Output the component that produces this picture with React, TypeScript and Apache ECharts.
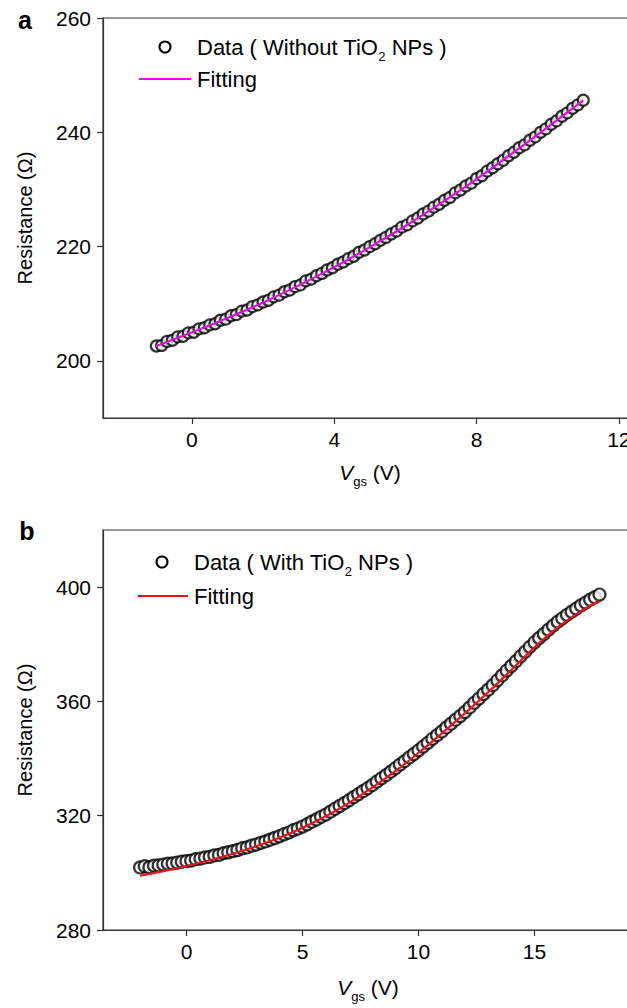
import React, { useEffect, useRef } from 'react';
import * as echarts from 'echarts';

const FONT = '"Liberation Sans", Arial, Helvetica, sans-serif';

// ---------- Panel a (Without TiO2 NPs) ----------
const vgsA = [-1.00,-0.85,-0.70,-0.55,-0.40,-0.25,-0.10,0.05,0.20,0.35,0.50,0.65,0.80,0.95,1.10,1.25,1.40,1.55,1.70,1.85,2.00,2.15,2.30,2.45,2.60,2.75,2.90,3.05,3.20,3.35,3.50,3.65,3.80,3.95,4.10,4.25,4.40,4.55,4.70,4.85,5.00,5.15,5.30,5.45,5.60,5.75,5.90,6.05,6.20,6.35,6.50,6.65,6.80,6.95,7.10,7.25,7.40,7.55,7.70,7.85,8.00,8.15,8.30,8.45,8.60,8.75,8.90,9.05,9.20,9.35,9.50,9.65,9.80,9.95,10.10,10.25,10.40,10.55,10.70,10.85,11.00];
const resA = [202.6,202.7,203.4,203.6,204.2,204.3,204.9,205.0,205.6,205.8,
  206.3,206.5,207.1,207.3,207.9,208.1,208.7,208.9,209.5,209.8,
  210.3,210.6,211.2,211.5,212.1,212.4,213.0,213.3,214.0,214.3,
  214.9,215.3,215.9,216.3,216.9,217.3,217.9,218.3,219.0,219.4,
  220.0,220.5,221.1,221.6,222.2,222.7,223.4,223.8,224.5,225.0,
  225.7,226.2,226.9,227.4,228.1,228.6,229.4,229.9,230.6,231.1,
  231.9,232.4,233.2,233.8,234.5,235.1,235.9,236.5,237.3,237.8,
  238.6,239.2,240.0,240.6,241.4,242.0,242.8,243.4,244.2,244.8,
  245.6];
const fitVgsA = [-1,0,1,2,3,4,5,6,7,8,9,10,11];
const fitResA = [202.6,205.0,207.5,210.2,213.2,216.4,219.9,223.6,227.6,231.8,236.3,240.9,245.6];
const xTicksA = [0,4,8,12];
const yTicksA = [200,220,240,260];

// ---------- Panel b (With TiO2 NPs) ----------
const vgsB = [-2.0,-1.8,-1.6,-1.4,-1.2,-1.0,-0.8,-0.6,-0.4,-0.2,0.0,0.2,0.4,0.6,0.8,1.0,1.2,1.4,1.6,1.8,
  2.0,2.2,2.4,2.6,2.8,3.0,3.2,3.4,3.6,3.8,4.0,4.2,4.4,4.6,4.8,5.0,5.2,5.4,5.6,5.8,
  6.0,6.2,6.4,6.6,6.8,7.0,7.2,7.4,7.6,7.8,8.0,8.2,8.4,8.6,8.8,9.0,9.2,9.4,9.6,9.8,
  10.0,10.2,10.4,10.6,10.8,11.0,11.2,11.4,11.6,11.8,12.0,12.2,12.4,12.6,12.8,13.0,13.2,13.4,13.6,13.8,
  14.0,14.2,14.4,14.6,14.8,15.0,15.2,15.4,15.6,15.8,16.0,16.2,16.4,16.6,16.8,17.0,17.2,17.4,17.6,17.8];
const resB = [301.9,302.3,302.0,302.5,302.6, 302.9,303.2,303.3,303.6,303.9,
  304.1,304.3,304.8,305.0,305.4, 305.6,306.1,306.3,306.9,307.2,
  307.6,308.0,308.6,308.9,309.5, 309.9,310.5,311.0,311.6,312.2,
  312.8,313.5,314.1,314.9,315.5, 316.2,317.0,317.9,318.7,319.6,
  320.4,321.4,322.4,323.4,324.4, 325.4,326.5,327.5,328.6,329.6,
  330.7,331.9,333.1,334.2,335.4, 336.6,337.9,339.1,340.4,341.6,
  342.9,344.2,345.5,346.9,348.2, 349.5,350.9,352.2,353.6,354.9,
  356.3,357.9,359.5,361.0,362.6, 364.1,365.7,367.4,369.1,370.8,
  372.4,374.1,375.8,377.4,379.1, 380.7,382.2,383.6,385.1,386.5,
  387.9,389.1,390.3,391.4,392.5, 393.6,394.6,395.6,396.5,397.4];
const fitVgsB = [-2,-1,0,1,2,3,4,5,6,7,8,9,10,11,12,13,14,15,16,17,17.8];
const fitResB = [299.0,300.6,302.4,304.4,306.7,309.3,312.3,315.8,319.8,324.5,329.8,335.6,342.0,348.8,355.9,363.2,371.0,378.9,385.9,391.6,395.2];
const xTicksB = [0,5,10,15];
const yTicksB = [280,320,360,400];

const AX = '#333';

function xAxisCfg(gridIndex: number, min: number, max: number, ticks: number[]) {
  return {
    type: 'value', gridIndex, min, max,
    axisLine: { show: true, onZero: false, lineStyle: { color: AX, width: 1.2 } },
    axisTick: { show: true, inside: false, length: 6, customValues: ticks, lineStyle: { color: AX, width: 1.2 } },
    axisLabel: { show: true, customValues: ticks, color: '#000', fontSize: 21, fontFamily: FONT, margin: 11, hideOverlap: false },
    splitLine: { show: false },
  };
}
function yAxisCfg(gridIndex: number, min: number, max: number, ticks: number[]) {
  return {
    type: 'value', gridIndex, min, max,
    name: 'Resistance (\u03A9)', nameLocation: 'middle', nameGap: 68,
    nameTextStyle: { color: '#000', fontSize: 20, fontFamily: FONT },
    axisLine: { show: true, onZero: false, lineStyle: { color: AX, width: 1.2 } },
    axisTick: { show: true, inside: false, length: 6, customValues: ticks, lineStyle: { color: AX, width: 1.2 } },
    axisLabel: { show: true, customValues: ticks, color: '#000', fontSize: 21, fontFamily: FONT, margin: 12 },
    splitLine: { show: false },
  };
}

const subRich = {
  t: { fontSize: 22, fontFamily: FONT, lineHeight: 32, fill: '#000' },
  x: { fontSize: 21, fontFamily: FONT, lineHeight: 32, fill: '#000' },
  i: { fontSize: 21, fontFamily: FONT, lineHeight: 32, fontStyle: 'italic', fill: '#000' },
  s: { fontSize: 13, fontFamily: FONT, lineHeight: 13, verticalAlign: 'bottom', fill: '#000' },
};

function txt(x: number, y: number, text: string, extra: any = {}) {
  return {
    type: 'text', x, y,
    style: { text, fill: '#000', fontSize: 21, fontFamily: FONT, align: 'left', verticalAlign: 'middle', rich: subRich, ...extra },
  };
}

export default function App() {
  const ref = useRef<HTMLDivElement>(null);
  useEffect(() => {
    if (!ref.current) return;
    const chart = echarts.init(ref.current, undefined, { renderer: 'svg' });
    const option: any = {
      animation: false,
      backgroundColor: '#fff',
      grid: [
        { left: 103, top: 18, width: 545, height: 400, show: true, borderColor: AX, borderWidth: 1.2, backgroundColor: 'transparent', containLabel: false, outerBoundsMode: 'none' },
        { left: 103, top: 530, width: 545, height: 400, show: true, borderColor: AX, borderWidth: 1.2, backgroundColor: 'transparent', containLabel: false, outerBoundsMode: 'none' },
      ],
      xAxis: [xAxisCfg(0, -2.5, 12.82, xTicksA), xAxisCfg(1, -3.6, 19.89, xTicksB)],
      yAxis: [yAxisCfg(0, 190, 260, yTicksA), yAxisCfg(1, 280, 420, yTicksB)],
      series: [
        {
          type: 'scatter', xAxisIndex: 0, yAxisIndex: 0, symbol: 'circle', symbolSize: 11,
          itemStyle: { color: '#fff', borderColor: '#000', borderWidth: 2.2 },
          data: vgsA.map((x, i) => [x, resA[i]]), z: 2,
        },
        {
          type: 'line', xAxisIndex: 0, yAxisIndex: 0, smooth: 0.4, showSymbol: false, symbol: 'none',
          lineStyle: { color: '#e010e0', width: 2.2 },
          data: fitVgsA.map((x, i) => [x, fitResA[i]]), z: 3,
        },
        {
          type: 'scatter', xAxisIndex: 1, yAxisIndex: 1, symbol: 'circle', symbolSize: 12,
          itemStyle: { color: '#fff', borderColor: '#000', borderWidth: 2.2 },
          data: vgsB.map((x, i) => [x, resB[i]]), z: 2,
        },
        {
          type: 'line', xAxisIndex: 1, yAxisIndex: 1, smooth: 0.4, showSymbol: false, symbol: 'none',
          lineStyle: { color: '#e8141a', width: 2.2 },
          data: fitVgsB.map((x, i) => [x, fitResB[i]]), z: 3,
        },
      ],
      graphic: [
        // panel labels
        { type: 'text', x: 25, y: 20, style: { text: 'a', fill: '#000', fontSize: 25, fontWeight: 'bold', fontFamily: FONT, align: 'center', verticalAlign: 'middle' } },
        { type: 'text', x: 27, y: 531, style: { text: 'b', fill: '#000', fontSize: 25, fontWeight: 'bold', fontFamily: FONT, align: 'center', verticalAlign: 'middle' } },
        // legend a
        { type: 'circle', shape: { cx: 165, cy: 47, r: 5.5 }, style: { fill: '#fff', stroke: '#000', lineWidth: 2 } },
        txt(197, 47, '{t|Data ( Without TiO}{s|2}{t| NPs )}'),
        { type: 'line', shape: { x1: 139, y1: 79, x2: 191, y2: 79 }, style: { stroke: '#e010e0', lineWidth: 2 } },
        txt(197, 79, '{t|Fitting}'),
        // legend b
        { type: 'circle', shape: { cx: 162, cy: 562, r: 5.5 }, style: { fill: '#fff', stroke: '#000', lineWidth: 2 } },
        txt(194, 562, '{t|Data ( With TiO}{s|2}{t| NPs )}'),
        { type: 'line', shape: { x1: 138, y1: 596, x2: 188, y2: 596 }, style: { stroke: '#e8141a', lineWidth: 2 } },
        txt(194, 596, '{t|Fitting}'),
        // x-axis titles
        txt(370, 472, '{i|V}{s|gs}{x| (V)}', { align: 'center' }),
        txt(368, 987, '{i|V}{s|gs}{x| (V)}', { align: 'center' }),
      ],
    };
    chart.setOption(option);
    return () => chart.dispose();
  }, []);
  return <div ref={ref} style={{ position: 'absolute', left: 0, top: 0, width: 627, height: 1008, overflow: 'hidden' }} />;
}
